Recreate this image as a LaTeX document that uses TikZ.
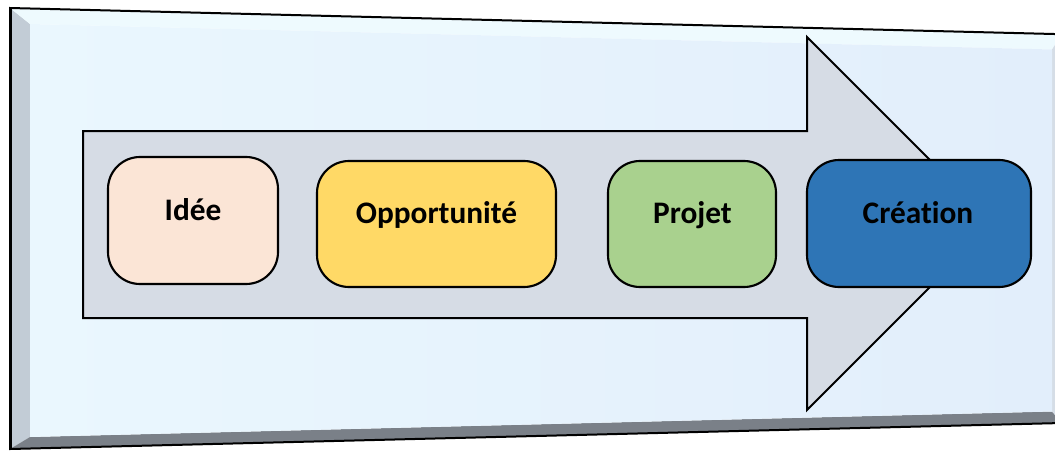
\documentclass[tikz,border=0pt]{standalone}
\usepackage{fontspec}
\setmainfont{Carlito}[Ligatures=NoCommon]
\definecolor{faceA}{HTML}{EAF7FE}
\definecolor{faceB}{HTML}{E2EEFB}
\definecolor{bevL}{HTML}{C2CCD6}
\definecolor{bevT}{HTML}{EEFAFE}
\definecolor{bevB}{HTML}{7A8088}
\definecolor{bevR}{HTML}{D5DDE6}
\definecolor{arrowfill}{HTML}{D6DCE5}
\definecolor{cIdee}{HTML}{FBE5D6}
\definecolor{cOpp}{HTML}{FFD966}
\definecolor{cProj}{HTML}{A9D18E}
\definecolor{cCre}{HTML}{2E75B6}
\tikzset{
  stagebox/.style={draw=black, line width=1.6pt, rounded corners=24pt, inner sep=0pt},
  stagetext/.style={anchor=base, inner sep=0pt, font=\fontsize{23.5pt}{28pt}\selectfont\bfseries, text=black},
  outline/.style={draw=black, line width=1.5pt, line join=miter}
}
\begin{document}
\begin{tikzpicture}[x=0.75pt, y=-0.75pt]
\useasboundingbox (0,0) rectangle (1055,450);
\begin{scope}
\clip (0,0) rectangle (1055,450);
% panel corners
\coordinate (OTL) at (10,8);
\coordinate (OTR) at (1062,34.2);
\coordinate (OBR) at (1062,423);
\coordinate (OBL) at (10,449);
\coordinate (ITL) at (30,24);
\coordinate (ITR) at (1052,49.5);
\coordinate (IBR) at (1052,411.5);
\coordinate (IBL) at (30,437);
% bevels
\fill[bevL] (OTL) -- (ITL) -- (IBL) -- (OBL) -- cycle;
\fill[bevT] (OTL) -- (OTR) -- (ITR) -- (ITL) -- cycle;
\fill[bevB] (OBL) -- (IBL) -- (IBR) -- (OBR) -- cycle;
\fill[bevR] (ITR) -- (OTR) -- (OBR) -- (IBR) -- cycle;
% face
\shade[left color=faceA, right color=faceB] (ITL) -- (ITR) -- (IBR) -- (IBL) -- cycle;
% outline
\draw[black, line width=1.5pt] (OTR) -- (OTL) -- (OBL) -- (OBR);
\draw[black, line width=2.2pt] (10.5,8) -- (10.5,449);
\end{scope}
% big arrow
\draw[outline, fill=arrowfill] (83,131) -- (807,131) -- (807,37) -- (993.5,223.5) -- (807,410) -- (807,318) -- (83,318) -- cycle;
% stage boxes
\node[stagebox, fill=cIdee, minimum width=127.5pt, minimum height=95.25pt] (idee) at (193,220.5) {};
\node[stagebox, fill=cOpp, minimum width=179.25pt, minimum height=94.5pt] (opp) at (436.5,224) {};
\node[stagebox, fill=cProj, minimum width=126pt, minimum height=94.5pt] (proj) at (692,224) {};
\node[stagebox, fill=cCre, minimum width=168pt, minimum height=95.25pt] (cre) at (919,223.5) {};
% labels
\node[stagetext] (tidee) at (193,220) {Idée};
\node[stagetext] (topp) at (436.5,223) {Opportunité};
\node[stagetext] (tproj) at (692.5,223) {Projet};
\node[stagetext] (tcre) at (918,223) {Création};
\end{tikzpicture}
\end{document}
